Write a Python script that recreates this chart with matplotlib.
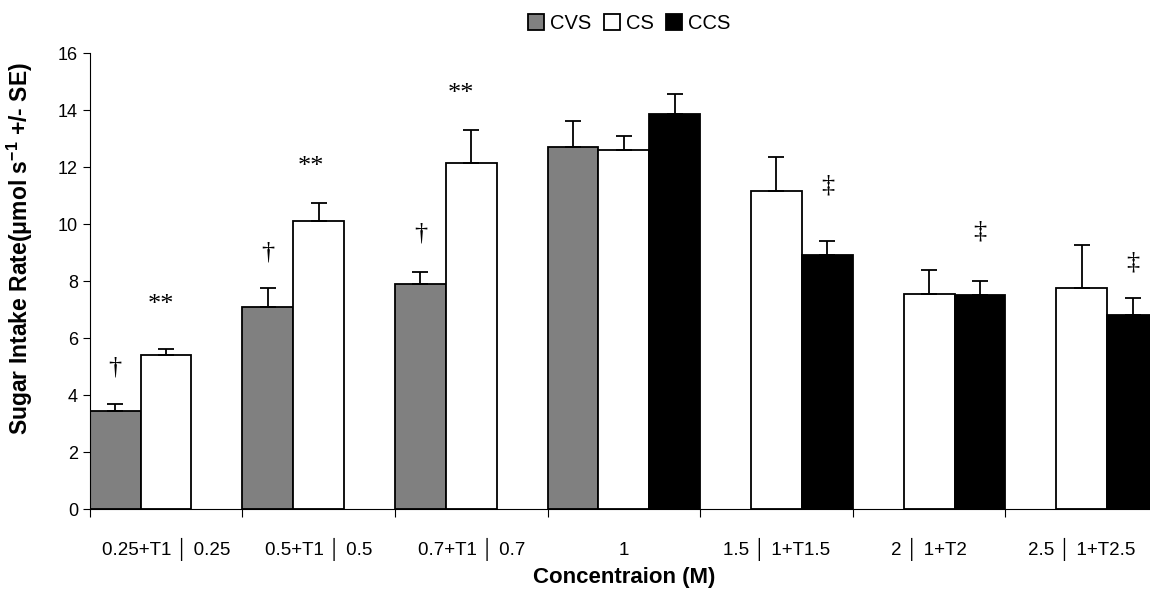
import numpy as np
import matplotlib
matplotlib.use("Agg")
import matplotlib.pyplot as plt

plt.rcParams['font.family'] = ['Liberation Sans', 'DejaVu Sans']
plt.rcParams['mathtext.fontset'] = 'custom'
plt.rcParams['mathtext.rm'] = 'Liberation Sans'
plt.rcParams['mathtext.bf'] = 'Liberation Sans:bold'

groups = ["0.25+T1 \u2502 0.25", "0.5+T1 \u2502 0.5", "0.7+T1 \u2502 0.7", "1",
          "1.5 \u2502 1+T1.5", "2 \u2502 1+T2", "2.5 \u2502 1+T2.5"]

# nan = no bar in that group
cvs = [3.45, 7.1, 7.9, 12.7, np.nan, np.nan, np.nan]
cvs_se = [0.25, 0.65, 0.42, 0.9, 0, 0, 0]
cs = [5.4, 10.1, 12.15, 12.6, 11.15, 7.55, 7.75]
cs_se = [0.2, 0.65, 1.15, 0.5, 1.2, 0.85, 1.5]
ccs = [np.nan, np.nan, np.nan, 13.85, 8.9, 7.5, 6.8]
ccs_se = [0, 0, 0, 0.7, 0.5, 0.5, 0.6]

# significance marks: (group, slot, y, text)
marks_dagger = [(0, 0, 4.95, "\u2020"), (1, 0, 9.0, "\u2020"), (2, 0, 9.65, "\u2020")]
marks_star = [(0, 0.9, 7.15, "**"), (1, 0.85, 12.0, "**"), (2, 0.8, 14.55, "**")]
marks_ddag = [(4, 2, 11.35, "\u2021"), (5, 2, 9.75, "\u2021"), (6, 2, 8.65, "\u2021")]

fig = plt.figure(figsize=(11.5, 5.91), dpi=100)
ax = fig.add_axes([0.078, 0.1387, 0.929, 0.7716])

w = 1.0 / 3
x = np.arange(len(groups))
series = [(cvs, cvs_se, "#808080", "CVS"), (cs, cs_se, "white", "CS"), (ccs, ccs_se, "black", "CCS")]
for k, (vals, se, col, lab) in enumerate(series):
    pos = x + k * w + w / 2
    ax.bar(pos, vals, width=w, color=col, edgecolor="black", linewidth=1.3, label=lab, zorder=2)
    ok = ~np.isnan(np.array(vals, dtype=float))
    ax.errorbar(pos[ok], np.array(vals)[ok], yerr=[np.zeros(ok.sum()), np.array(se)[ok]],
                fmt="none", ecolor="black", elinewidth=1.3, capsize=5.5, capthick=1.3, zorder=3)

for g, s, yv, t in marks_dagger + marks_star + marks_ddag:
    ax.text(g + s * w + w / 2, yv, t, ha="center", va="center", fontsize=19,
            family=["Liberation Serif", "DejaVu Serif"])

ax.set_xlim(0, len(groups))
ax.set_ylim(0, 16)
ax.set_yticks(range(0, 17, 2))
ax.set_xticks(np.arange(len(groups) + 1))
ax.set_xticklabels([])
ax.set_xticks(x + 0.5, minor=True)
ax.set_xticklabels(groups, minor=True, fontsize=13.5)
ax.tick_params(axis="x", which="minor", length=0, pad=33)
for lbl in ax.get_xticklabels(minor=True):
    lbl.set_verticalalignment("baseline")
ax.tick_params(axis="x", which="major", length=6, direction="out")
ax.tick_params(axis="y", labelsize=13, length=5)
for sp in ["top", "right"]:
    ax.spines[sp].set_visible(False)

ax.set_ylabel(r"Sugar Intake Rate(μmol s$^{\mathbf{-1}}$ +/- SE)", fontsize=16.5, fontweight="bold")
ax.yaxis.set_label_coords(-0.051, 0.57)
ax.set_xlabel("Concentraion (M)", fontsize=16, fontweight="bold")
ax.xaxis.set_label_coords(0.5, -0.151)
ax.xaxis.label.set_verticalalignment("center")

ax.legend(loc="upper center", bbox_to_anchor=(0.505, 1.125), ncol=3, frameon=False,
          fontsize=14.5, handlelength=0.8, handleheight=0.8, handletextpad=0.3, columnspacing=0.6)

fig.savefig("out.png", dpi=100)
